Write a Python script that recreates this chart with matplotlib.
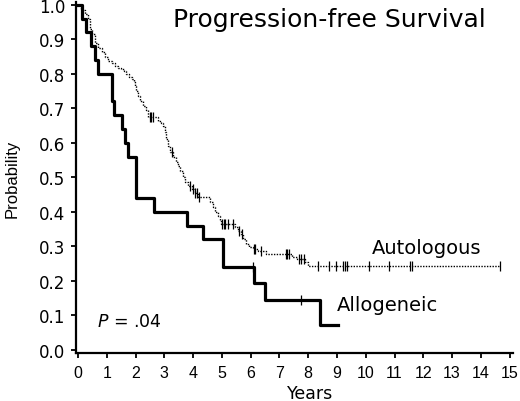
import matplotlib
matplotlib.use('Agg')
import matplotlib.pyplot as plt
import numpy as np

# allogeneic (thick line)
allo_t = [0, 0.14, 0.28, 0.45, 0.58, 0.68, 1.17, 1.26, 1.52, 1.62, 1.72, 2.02, 2.63, 3.80, 4.34, 5.03, 6.12, 6.5, 8.4]
allo_s = [1.0, 0.96, 0.92, 0.88, 0.84, 0.80, 0.72, 0.68, 0.64, 0.60, 0.56, 0.44, 0.40, 0.36, 0.32, 0.24, 0.192, 0.144, 0.072]
allo_end = 9.04
allo_censor = [6.07, 7.74]

# autologous (dotted line)
auto_t = [0, 0.12, 0.24, 0.33, 0.42, 0.5, 0.59, 0.7, 0.82, 0.93,
          1.05, 1.17, 1.28, 1.4, 1.51, 1.6, 1.68, 1.78, 1.86, 1.93,
          1.97, 2.03, 2.09, 2.17, 2.26, 2.35, 2.43, 2.78, 2.87, 2.95,
          3.01, 3.07, 3.12, 3.18, 3.3, 3.4, 3.47, 3.55, 3.64, 3.73,
          3.82, 3.95, 4.05, 4.16, 4.6, 4.68, 4.77, 4.85, 4.92, 4.97,
          5.45, 5.55, 5.66, 5.75, 5.84, 5.95, 6.07, 6.24, 6.53, 7.42,
          7.6, 7.9, 8.0]
auto_s = [1.0, .985, .973, .958, .93, .915, .89, .876, .862, .85,
          .838, .83, .823, .818, .813, .807, .80, .792, .785, .775,
          .765, .75, .736, .72, .707, .695, .674, .662, .657, .649,
          .63, .611, .592, .572, .558, .545, .533, .517, .50, .487,
          .475, .466, .455, .443, .428, .413, .40, .388, .376, .364,
          .355, .345, .335, .32, .306, .298, .292, .287, .277, .27,
          .263, .253, .243]
auto_end = 14.66
auto_censor = [2.5, 2.55, 2.6, 3.28, 3.9, 4.0, 4.08, 4.12, 4.2, 5.0, 5.08, 5.12, 5.2,
               5.37, 5.58, 5.7, 6.1, 6.15, 6.35, 7.22, 7.28, 7.35, 7.68, 7.75, 7.85,
               8.35, 8.72, 8.97, 9.2, 9.27, 9.34, 10.1, 10.82, 11.55, 11.6, 14.66]

xticks = list(range(0, 16))
yticks = [0.0, 0.1, 0.2, 0.3, 0.4, 0.5, 0.6, 0.7, 0.8, 0.9, 1.0]


def curve(ax, t, s, end, cens, **kw):
    tt = list(t) + [end]
    ss = list(s) + [s[-1]]
    ax.step(tt, ss, where='post', color='black', **kw)
    # censor marks sit on the step function
    idx = np.searchsorted(tt, cens, side='right') - 1
    idx = np.clip(idx, 0, len(ss) - 1)
    ax.plot(cens, np.array(ss)[idx], '|', color='black', markersize=7, markeredgewidth=0.9)


fig = plt.figure(figsize=(5.2, 4.02), dpi=100)
ax = fig.add_axes([0.1462, 0.1194, 0.8404, 0.873])

curve(ax, auto_t, auto_s, auto_end, auto_censor, linewidth=1.0, linestyle=(0, (1, 1)))
curve(ax, allo_t, allo_s, allo_end, allo_censor, linewidth=2.3)

ax.set_xlim(-0.07, 15.12)
ax.set_ylim(-0.0096, 1.008)
ax.set_xticks(xticks)
ax.set_xticklabels([str(v) for v in xticks], family='Liberation Sans')
ax.set_yticks(yticks)
ax.set_yticklabels(['%.1f' % v for v in yticks])
ax.tick_params(axis='both', direction='out', length=3.5, width=1.3)
ax.tick_params(axis='y', pad=4, labelsize=12)
ax.tick_params(axis='x', pad=5, labelsize=11.5)
for side in ['top', 'right']:
    ax.spines[side].set_visible(False)
for side in ['left', 'bottom']:
    ax.spines[side].set_linewidth(1.6)

ax.set_ylabel('Probability', fontsize=12, family='Liberation Sans')
ax.yaxis.set_label_coords(-0.128, 0.5)
ax.set_xlabel('Years', fontsize=12.5)
ax.xaxis.set_label_coords(0.535, -0.088)

ax.text(3.29, 0.939, 'Progression-free Survival', fontsize=18, va='baseline')
ax.text(10.2, 0.280, 'Autologous', fontsize=14, va='baseline')
ax.text(9.0, 0.116, 'Allogeneic', fontsize=14, va='baseline')
ax.text(0.66, 0.068, '$P$ = .04', fontsize=12.5, va='baseline')

fig.savefig('out.png', dpi=100)
